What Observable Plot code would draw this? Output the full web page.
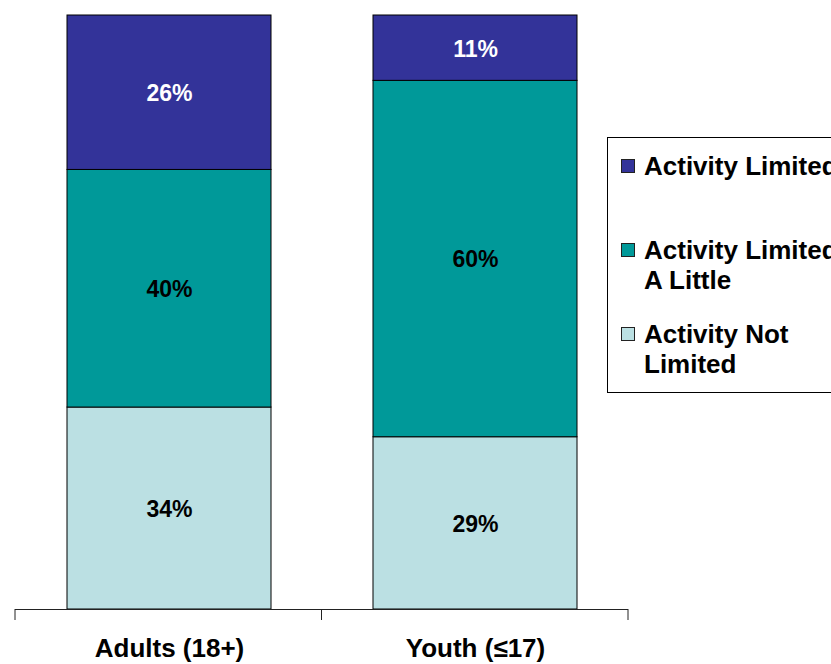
<!DOCTYPE html>
<html>
<head>
<meta charset="utf-8">
<script src="https://cdn.jsdelivr.net/npm/d3@7"></script>
<script src="https://cdn.jsdelivr.net/npm/@observablehq/plot@0.6"></script>
<style>
  html, body { margin: 0; padding: 0; background: #fff; }
  #wrap { position: relative; width: 831px; height: 664px; overflow: hidden; font-family: "Liberation Sans", Arial, sans-serif; }
  #wrap svg { position: absolute; left: 0; top: 0; font-family: "Liberation Sans", Arial, sans-serif; }
  #legend { position: absolute; left: 607px; top: 137px; width: 260px; height: 254px; border: 1px solid #000; background: #fff; }
  .item { position: absolute; left: 13px; font-weight: bold; font-size: 26px; line-height: 30px; color: #000; white-space: nowrap; }
  .sw { position: absolute; left: 0; top: 8px; width: 12px; height: 12px; border: 1px solid #222; }
  .lbl { position: absolute; left: 23px; top: 0; }
</style>
</head>
<body>
<div id="wrap"><div id="legend"></div></div>
<script>
// ---- data ----
const categories = ["Adults (18+)", "Youth (\u226417)"];
const series = ["Activity Not Limited", "Activity Limited A Little", "Activity Limited"];
const notLimited = [34, 29];
const limitedALittle = [40, 60];
const limitedALot = [26, 11];
const seriesColors = ["#BBE0E3", "#009999", "#333399"];
const legendLabels = [["Activity Limited"], ["Activity Limited", "A Little"], ["Activity Not", "Limited"]];

const valuesBySeries = [notLimited, limitedALittle, limitedALot];
const data = [];
series.forEach((s, i) => categories.forEach((c, j) => data.push({cat: c, series: s, value: valuesBySeries[i][j]})));

const boundaryTicks = (index, scales, values, dimensions) => {
  const {width, marginLeft, marginRight} = dimensions;
  const y0 = scales.y(0);
  const n = categories.length;
  const step = (width - marginLeft - marginRight) / n;
  const g = d3.create("svg:g");
  for (let k = 0; k <= n; k++) {
    const x = marginLeft + k * step;
    g.append("line").attr("x1", x).attr("x2", x).attr("y1", y0).attr("y2", y0 + 11)
      .attr("stroke", "#222").attr("stroke-width", 1);
  }
  return g.node();
};

const chart = Plot.plot({
  width: 831,
  height: 664,
  marginTop: 15,
  marginBottom: 55,
  marginLeft: 15,
  marginRight: 203,
  x: {domain: categories, paddingInner: 0.334, paddingOuter: 0.167, axis: null, label: null},
  y: {domain: [0, 100], axis: null},
  color: {domain: series, range: seriesColors},
  marks: [
    Plot.barY(data, {x: "cat", y: "value", fill: "series", order: series, stroke: "#000", strokeWidth: 1}),
    Plot.text(data, Plot.stackY({
      x: "cat", y: "value", z: "series", order: series,
      text: d => d.value + "%",
      fill: d => d.series === "Activity Limited" ? "#fff" : "#000",
      fontSize: 23, fontWeight: "bold", dy: 1
    })),
    Plot.ruleY([0], {stroke: "#222", strokeWidth: 1}),
    boundaryTicks,
    Plot.axisX({tickSize: 0, tickPadding: 29, fontSize: 26, fontWeight: "bold", fill: "#000", label: null})
  ]
});
document.getElementById("wrap").insertBefore(chart, document.getElementById("legend"));

// legend
const legend = document.getElementById("legend");
const order = [2, 1, 0];
order.forEach((si, k) => {
  const item = document.createElement("div");
  item.className = "item";
  item.style.top = (13 + k * 84) + "px";
  const sw = document.createElement("div");
  sw.className = "sw";
  sw.style.background = seriesColors[si];
  const lbl = document.createElement("div");
  lbl.className = "lbl";
  lbl.innerHTML = legendLabels[k].join("<br>");
  item.appendChild(sw);
  item.appendChild(lbl);
  legend.appendChild(item);
});
</script>
</body>
</html>
